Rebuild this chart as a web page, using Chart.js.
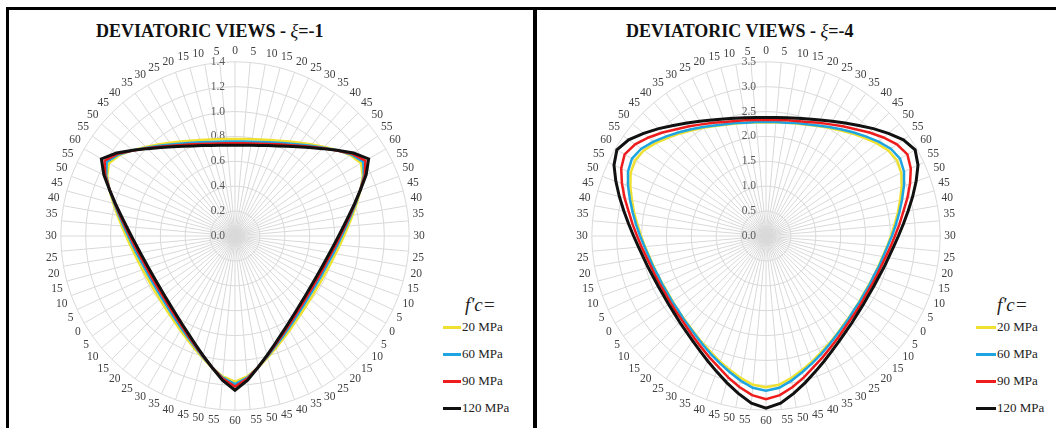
<!DOCTYPE html>
<html>
<head>
<meta charset="utf-8">
<script src="https://cdn.jsdelivr.net/npm/chart.js@4.4.1/dist/chart.umd.min.js"></script>
<style>
  body { margin: 0; width: 1056px; height: 428px; overflow: hidden; background: #fff; position: relative; font-family: "Liberation Serif", "Times New Roman", serif; }
  .rule { position: absolute; background: #000; }
  .title { position: absolute; top: 22px; font-size: 18px; line-height: 18px; font-weight: bold; color: #111; white-space: nowrap; }
  .title i { font-weight: normal; }
  .box { position: absolute; }
  .fc { position: absolute; font-family: "Liberation Serif", serif; font-size: 19px; line-height: 22px; font-style: italic; color: #222; }
  .item { position: absolute; height: 16px; display: flex; align-items: center; font-family: "Liberation Serif", serif; font-size: 13px; color: #222; white-space: nowrap; }
  .item span.swatch { display: inline-block; height: 3px; margin-right: 1px; }
</style>
</head>
<body>
<div class="rule" style="left:6px; top:7px; width:1050px; height:3px;"></div>
<div class="rule" style="left:6px; top:7px; width:3px; height:421px;"></div>
<div class="rule" style="left:533px; top:7px; width:4px; height:421px;"></div>

<div class="title" style="left:96px;"><b>DEVIATORIC VIEWS - </b><i>ξ</i><b>=-1</b></div>
<div class="title" style="left:626px;"><b>DEVIATORIC VIEWS - </b><i>ξ</i><b>=-4</b></div>

<div class="box" style="left:35px; top:45px;"><canvas id="chartXi1" width="400" height="384"></canvas></div>
<div class="box" style="left:566px; top:45px;"><canvas id="chartXi4" width="400" height="384"></canvas></div>

<div id="legendXi1"></div>
<div id="legendXi4"></div>

<script>
// Lode angle labels (deg) around the deviatoric plane, every 5 degrees
const angleLabels = [
  '0','5','10','15','20','25','30','35','40','45','50','55','60','55','50','45','40','35','30','25','20','15','10','5',
  '0','5','10','15','20','25','30','35','40','45','50','55','60','55','50','45','40','35','30','25','20','15','10','5',
  '0','5','10','15','20','25','30','35','40','45','50','55','60','55','50','45','40','35','30','25','20','15','10','5'
];

const seriesNames = ['20 MPa', '60 MPa', '90 MPa', '120 MPa'];
const seriesColors = ['#f0e130', '#1ea4e0', '#ee1c1c', '#111111'];

// xi = -1
const xi1_20 = [
  0.780,0.782,0.790,0.803,0.821,0.845,0.876,0.914,0.959,1.013,1.073,1.133,1.170,1.133,1.073,1.013,0.959,0.914,0.876,0.845,0.821,0.803,0.790,0.782,
  0.780,0.782,0.790,0.803,0.821,0.845,0.876,0.914,0.959,1.013,1.073,1.133,1.170,1.133,1.073,1.013,0.959,0.914,0.876,0.845,0.821,0.803,0.790,0.782,
  0.780,0.782,0.790,0.803,0.821,0.845,0.876,0.914,0.959,1.013,1.073,1.133,1.170,1.133,1.073,1.013,0.959,0.914,0.876,0.845,0.821,0.803,0.790,0.782
];
const xi1_60 = [
  0.760,0.763,0.770,0.783,0.802,0.827,0.858,0.898,0.946,1.004,1.071,1.142,1.190,1.142,1.071,1.004,0.946,0.898,0.858,0.827,0.802,0.783,0.770,0.763,
  0.760,0.763,0.770,0.783,0.802,0.827,0.858,0.898,0.946,1.004,1.071,1.142,1.190,1.142,1.071,1.004,0.946,0.898,0.858,0.827,0.802,0.783,0.770,0.763,
  0.760,0.763,0.770,0.783,0.802,0.827,0.858,0.898,0.946,1.004,1.071,1.142,1.190,1.142,1.071,1.004,0.946,0.898,0.858,0.827,0.802,0.783,0.770,0.763
];
const xi1_90 = [
  0.745,0.748,0.755,0.768,0.787,0.813,0.845,0.886,0.937,0.998,1.070,1.151,1.210,1.151,1.070,0.998,0.937,0.886,0.845,0.813,0.787,0.768,0.755,0.748,
  0.745,0.748,0.755,0.768,0.787,0.813,0.845,0.886,0.937,0.998,1.070,1.151,1.210,1.151,1.070,0.998,0.937,0.886,0.845,0.813,0.787,0.768,0.755,0.748,
  0.745,0.748,0.755,0.768,0.787,0.813,0.845,0.886,0.937,0.998,1.070,1.151,1.210,1.151,1.070,0.998,0.937,0.886,0.845,0.813,0.787,0.768,0.755,0.748
];
const xi1_120 = [
  0.730,0.733,0.741,0.754,0.773,0.799,0.833,0.875,0.928,0.993,1.071,1.163,1.240,1.163,1.071,0.993,0.928,0.875,0.833,0.799,0.773,0.754,0.741,0.733,
  0.730,0.733,0.741,0.754,0.773,0.799,0.833,0.875,0.928,0.993,1.071,1.163,1.240,1.163,1.071,0.993,0.928,0.875,0.833,0.799,0.773,0.754,0.741,0.733,
  0.730,0.733,0.741,0.754,0.773,0.799,0.833,0.875,0.928,0.993,1.071,1.163,1.240,1.163,1.071,0.993,0.928,0.875,0.833,0.799,0.773,0.754,0.741,0.733
];

// xi = -4
const xi4_20 = [
  2.28,2.29,2.31,2.34,2.38,2.44,2.51,2.59,2.69,2.79,2.90,3.00,3.04,3.00,2.90,2.79,2.69,2.59,2.51,2.44,2.38,2.34,2.31,2.29,
  2.28,2.29,2.31,2.34,2.38,2.44,2.51,2.59,2.69,2.79,2.90,3.00,3.04,3.00,2.90,2.79,2.69,2.59,2.51,2.44,2.38,2.34,2.31,2.29,
  2.28,2.29,2.31,2.34,2.38,2.44,2.51,2.59,2.69,2.79,2.90,3.00,3.04,3.00,2.90,2.79,2.69,2.59,2.51,2.44,2.38,2.34,2.31,2.29
];
const xi4_60 = [
  2.29,2.30,2.31,2.35,2.39,2.45,2.53,2.62,2.72,2.83,2.95,3.06,3.11,3.06,2.95,2.83,2.72,2.62,2.53,2.45,2.39,2.35,2.31,2.30,
  2.29,2.30,2.31,2.35,2.39,2.45,2.53,2.62,2.72,2.83,2.95,3.06,3.11,3.06,2.95,2.83,2.72,2.62,2.53,2.45,2.39,2.35,2.31,2.30,
  2.29,2.30,2.31,2.35,2.39,2.45,2.53,2.62,2.72,2.83,2.95,3.06,3.11,3.06,2.95,2.83,2.72,2.62,2.53,2.45,2.39,2.35,2.31,2.30
];
const xi4_90 = [
  2.33,2.34,2.36,2.39,2.44,2.51,2.59,2.69,2.80,2.94,3.08,3.21,3.28,3.21,3.08,2.94,2.80,2.69,2.59,2.51,2.44,2.39,2.36,2.34,
  2.33,2.34,2.36,2.39,2.44,2.51,2.59,2.69,2.80,2.94,3.08,3.21,3.28,3.21,3.08,2.94,2.80,2.69,2.59,2.51,2.44,2.39,2.36,2.34,
  2.33,2.34,2.36,2.39,2.44,2.51,2.59,2.69,2.80,2.94,3.08,3.21,3.28,3.21,3.08,2.94,2.80,2.69,2.59,2.51,2.44,2.39,2.36,2.34
];
const xi4_120 = [
  2.38,2.39,2.41,2.45,2.50,2.57,2.66,2.77,2.90,3.05,3.21,3.37,3.46,3.37,3.21,3.05,2.90,2.77,2.66,2.57,2.50,2.45,2.41,2.39,
  2.38,2.39,2.41,2.45,2.50,2.57,2.66,2.77,2.90,3.05,3.21,3.37,3.46,3.37,3.21,3.05,2.90,2.77,2.66,2.57,2.50,2.45,2.41,2.39,
  2.38,2.39,2.41,2.45,2.50,2.57,2.66,2.77,2.90,3.05,3.21,3.37,3.46,3.37,3.21,3.05,2.90,2.77,2.66,2.57,2.50,2.45,2.41,2.39
];

const serif = "'Liberation Serif', 'Times New Roman', serif";

// radial tick labels drawn left of the vertical axis, under the lines
const tickLabelPlugin = {
  id: 'tickLabels',
  beforeDatasetsDraw(chart) {
    const s = chart.scales.r;
    const ctx = chart.ctx;
    ctx.save();
    ctx.font = "11.5px 'Liberation Serif', serif";
    ctx.fillStyle = '#595959';
    ctx.textAlign = 'right';
    ctx.textBaseline = 'middle';
    s.ticks.forEach(t => {
      const d = s.getDistanceFromCenterForValue(t.value);
      ctx.fillText(t.value.toFixed(1), s.xCenter - 10, s.yCenter - d);
    });
    ctx.restore();
  }
};

function makeRadar(id, values, max, step) {
  const ctx = document.getElementById(id).getContext('2d');
  return new Chart(ctx, {
    type: 'radar',
    data: {
      labels: angleLabels,
      datasets: values.map((v, i) => ({
        label: seriesNames[i],
        data: v,
        borderColor: seriesColors[i],
        borderWidth: i === 3 ? 3 : 2.5,
        borderJoinStyle: 'miter',
        fill: false,
        pointRadius: 0,
        tension: 0,
        order: 4 - i
      }))
    },
    options: {
      responsive: false,
      animation: false,
      events: [],
      layout: { padding: 0 },
      plugins: {
        legend: { display: false },
        tooltip: { enabled: false }
      },
      scales: {
        r: {
          min: 0,
          max: max,
          ticks: { stepSize: step, display: false },
          grid: { color: '#d9d9d9', lineWidth: 1 },
          angleLines: { color: '#d9d9d9', lineWidth: 1 },
          pointLabels: {
            font: { family: serif, size: 11.5 },
            color: '#404040',
            padding: 4
          }
        }
      }
    },
    plugins: [tickLabelPlugin]
  });
}

function makeLegend(id, fcLeft, lineLeft, lineWidth) {
  const el = document.getElementById(id);
  let html = `<div class="fc" style="left:${fcLeft}px; top:294px;">f'c=</div>`;
  seriesNames.forEach((name, i) => {
    html += `<div class="item" style="left:${lineLeft}px; top:${319 + i * 27}px;">` +
      `<span class="swatch" style="width:${lineWidth}px; background:${seriesColors[i]};"></span>${name}</div>`;
  });
  el.innerHTML = html;
}

makeRadar('chartXi1', [xi1_20, xi1_60, xi1_90, xi1_120], 1.4, 0.2);
makeRadar('chartXi4', [xi4_20, xi4_60, xi4_90, xi4_120], 3.5, 0.5);
makeLegend('legendXi1', 465, 443, 18);
makeLegend('legendXi4', 997, 976, 20);
</script>
</body>
</html>
